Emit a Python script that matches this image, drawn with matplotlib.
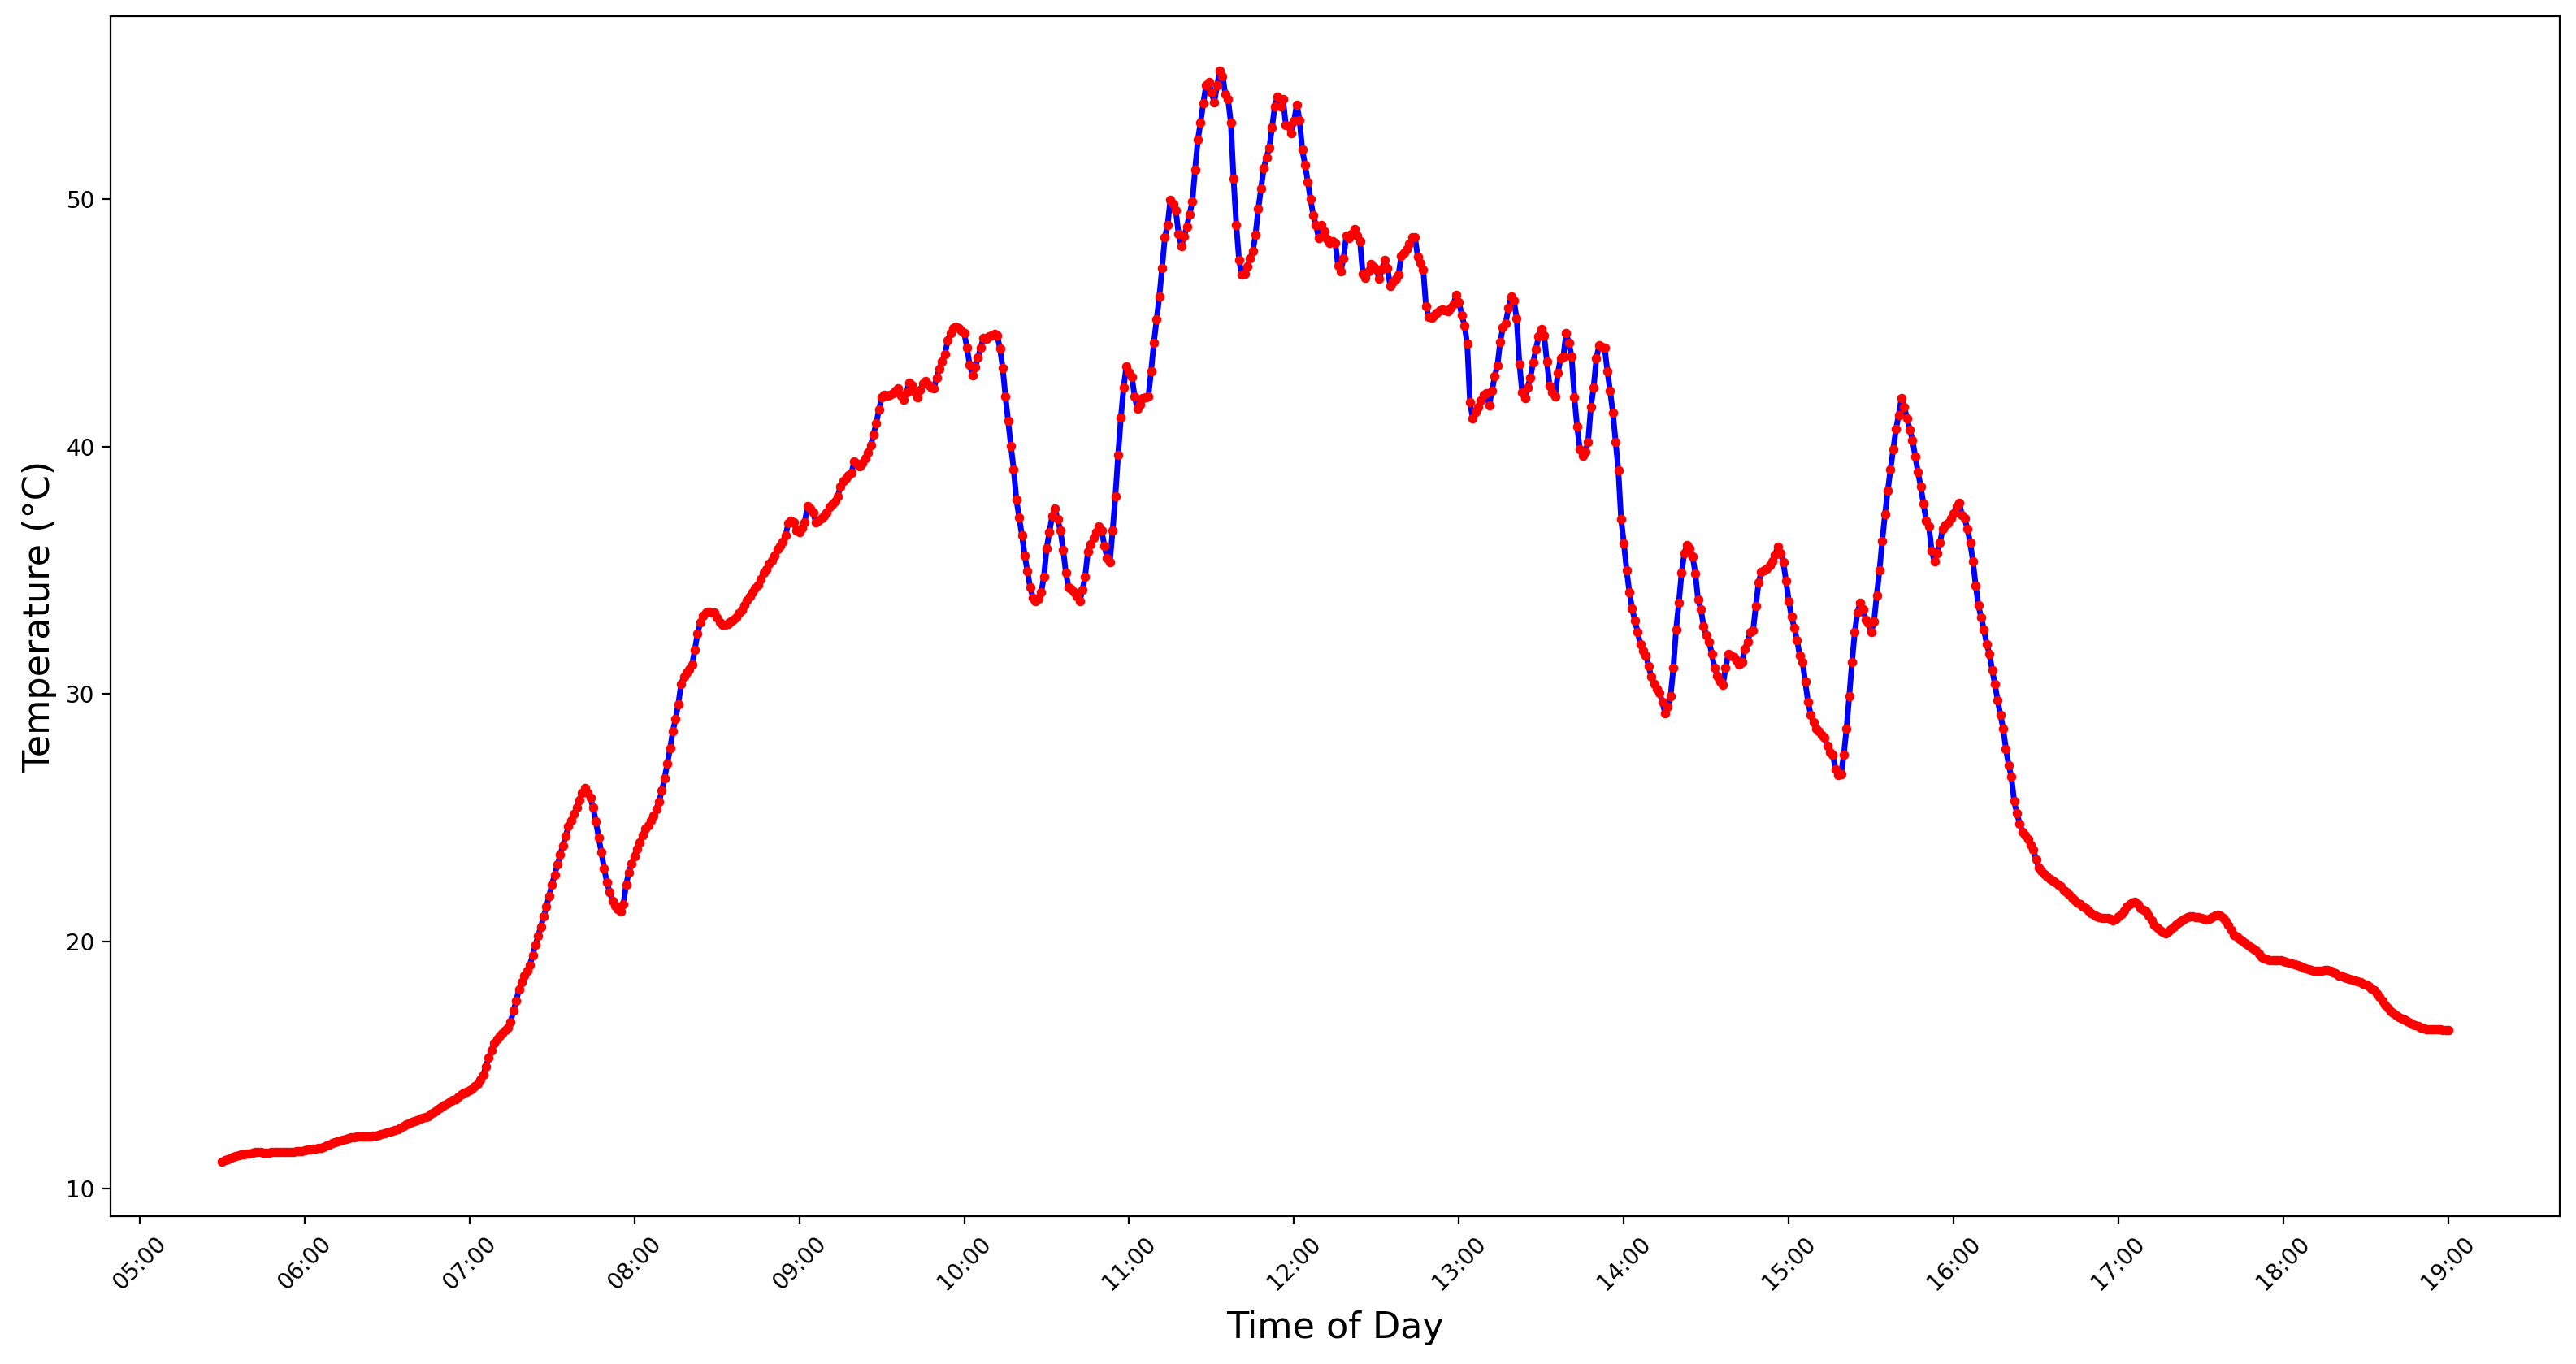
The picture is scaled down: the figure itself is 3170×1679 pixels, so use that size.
import matplotlib
matplotlib.use('Agg')
import matplotlib.pyplot as plt
import matplotlib.dates as mdates
import pandas as pd

# one reading per minute, 05:30 -> 19:00
start_time = '2024-06-01 05:30'
temps = [
    11.10, 11.16, 11.20, 11.24, 11.28, 11.31, 11.35, 11.38, 11.40, 11.42,
    11.44, 11.46, 11.48, 11.50, 11.49, 11.46, 11.45, 11.46, 11.48, 11.49,
    11.48, 11.48, 11.49, 11.50, 11.50, 11.49, 11.50, 11.51, 11.52, 11.53,
    11.55, 11.58, 11.60, 11.62, 11.63, 11.64, 11.66, 11.70, 11.75, 11.80,
    11.84, 11.87, 11.91, 11.95, 11.98, 12.01, 12.04, 12.07, 12.09, 12.10,
    12.11, 12.12, 12.13, 12.13, 12.13, 12.14, 12.15, 12.18, 12.22, 12.26,
    12.29, 12.31, 12.33, 12.36, 12.42, 12.48, 12.54, 12.59, 12.64, 12.69,
    12.73, 12.77, 12.82, 12.87, 12.91, 12.95, 13.02, 13.10, 13.18, 13.26,
    13.33, 13.40, 13.46, 13.52, 13.58, 13.64, 13.72, 13.82, 13.90, 13.93,
    13.98, 14.06, 14.15, 14.25, 14.40, 14.60, 14.95, 15.30, 15.60, 15.90,
    16.05, 16.18, 16.28, 16.40, 16.52, 16.75, 17.20, 17.60, 18.05, 18.35,
    18.60, 18.82, 19.05, 19.45, 19.85, 20.22, 20.60, 21.00, 21.40, 21.85,
    22.30, 22.70, 23.10, 23.50, 23.87, 24.25, 24.65, 24.90, 25.15, 25.40,
    25.70, 26.00, 26.20, 26.00, 25.80, 25.40, 24.85, 24.20, 23.60, 22.95,
    22.40, 22.00, 21.65, 21.45, 21.30, 21.22, 21.50, 22.30, 22.80, 23.15,
    23.45, 23.75, 24.00, 24.30, 24.55, 24.70, 24.90, 25.10, 25.35, 25.65,
    26.10, 26.60, 27.20, 27.80, 28.50, 29.00, 29.60, 30.40, 30.70, 30.85,
    31.00, 31.20, 31.80, 32.45, 32.90, 33.15, 33.30, 33.32, 33.30, 33.28,
    33.10, 32.90, 32.80, 32.80, 32.85, 32.92, 33.00, 33.10, 33.25, 33.40,
    33.60, 33.80, 33.95, 34.10, 34.28, 34.42, 34.65, 34.90, 35.05, 35.25,
    35.40, 35.60, 35.85, 36.00, 36.15, 36.40, 36.90, 37.00, 36.95, 36.60,
    36.55, 36.70, 36.95, 37.60, 37.50, 37.35, 36.95, 37.00, 37.10, 37.20,
    37.35, 37.55, 37.65, 37.80, 38.00, 38.40, 38.60, 38.70, 38.85, 38.95,
    39.40, 39.30, 39.20, 39.35, 39.55, 39.75, 40.05, 40.50, 40.95, 41.50,
    42.00, 42.10, 42.05, 42.10, 42.15, 42.25, 42.35, 42.05, 41.90, 42.20,
    42.60, 42.50, 42.20, 42.00, 42.30, 42.55, 42.65, 42.50, 42.40, 42.35,
    42.80, 43.15, 43.45, 43.75, 44.30, 44.60, 44.80, 44.85, 44.80, 44.70,
    44.60, 44.00, 43.30, 42.90, 43.20, 43.60, 44.00, 44.40, 44.35, 44.45,
    44.50, 44.55, 44.50, 43.98, 43.19, 42.03, 41.03, 40.02, 39.08, 37.85,
    37.13, 36.41, 35.61, 34.96, 34.31, 33.90, 33.74, 33.85, 34.10, 34.75,
    35.90, 36.55, 37.20, 37.49, 37.06, 36.62, 35.83, 34.89, 34.31, 34.24,
    34.10, 33.95, 33.74, 34.20, 34.75, 35.76, 36.05, 36.30, 36.55, 36.77,
    36.60, 36.00, 35.50, 35.32, 36.62, 37.99, 39.66, 41.17, 42.40, 43.26,
    43.00, 42.83, 42.03, 41.53, 41.70, 41.96, 42.00, 42.03, 43.05, 44.20,
    45.14, 46.08, 47.23, 48.46, 48.96, 49.97, 49.80, 49.54, 48.60, 48.10,
    48.50, 48.90, 49.40, 49.90, 51.20, 52.40, 53.10, 53.90, 54.60, 54.75,
    54.30, 53.93, 54.60, 55.19, 54.97, 54.26, 54.04, 53.11, 50.82, 48.96,
    47.54, 46.94, 47.00, 47.30, 47.60, 47.90, 48.58, 49.62, 50.44, 51.26,
    51.70, 52.08, 52.90, 53.77, 54.15, 53.77, 54.04, 53.00, 52.95, 52.68,
    53.17, 53.83, 53.20, 52.00, 51.40, 50.70, 50.00, 49.34, 48.96, 48.42,
    48.96, 48.70, 48.40, 48.25, 48.30, 48.25, 47.32, 47.10, 47.60, 48.52,
    48.42, 48.60, 48.80, 48.52, 48.30, 46.99, 46.83, 47.10, 47.38, 47.25,
    47.16, 46.78, 47.20, 47.54, 47.21, 46.50, 46.67, 46.80, 46.94, 47.70,
    47.85, 47.98, 48.20, 48.47, 48.48, 47.67, 47.40, 47.16, 45.69, 45.25,
    45.20, 45.30, 45.40, 45.50, 45.55, 45.50, 45.47, 45.60, 45.77, 46.13,
    45.84, 45.33, 44.90, 44.16, 41.80, 41.16, 41.40, 41.60, 41.85, 42.11,
    42.15, 41.67, 42.25, 42.84, 43.28, 44.23, 44.82, 45.00, 45.60, 46.06,
    45.90, 45.18, 43.35, 42.18, 41.96, 42.40, 42.80, 43.40, 43.94, 44.45,
    44.74, 44.50, 43.43, 42.47, 42.20, 42.04, 42.99, 43.57, 43.65, 44.60,
    44.20, 43.65, 42.00, 40.80, 39.90, 39.62, 39.80, 40.20, 41.60, 42.40,
    43.57, 44.09, 44.05, 44.01, 43.06, 42.25, 41.38, 40.20, 39.03, 37.06,
    36.10, 35.01, 34.13, 33.47, 32.96, 32.52, 32.01, 31.75, 31.57, 31.13,
    30.69, 30.40, 30.20, 30.05, 29.67, 29.23, 29.50, 29.92, 31.05, 32.60,
    33.69, 34.90, 35.70, 36.01, 35.90, 35.57, 34.88, 33.81, 33.44, 32.75,
    32.37, 32.12, 31.62, 31.05, 30.74, 30.50, 30.36, 31.05, 31.62, 31.56,
    31.50, 31.37, 31.18, 31.30, 31.81, 32.12, 32.50, 32.56, 33.56, 34.50,
    34.94, 35.00, 35.07, 35.20, 35.38, 35.63, 35.95, 35.70, 35.32, 34.57,
    33.75, 33.12, 32.68, 32.18, 31.55, 31.30, 30.49, 29.67, 29.17, 28.86,
    28.61, 28.50, 28.35, 28.23, 27.91, 27.66, 27.54, 26.97, 26.72, 26.75,
    27.54, 28.61, 29.92, 31.30, 32.50, 33.31, 33.69, 33.44, 33.00, 32.87,
    32.50, 32.93, 34.00, 35.01, 36.20, 37.27, 38.21, 39.08, 39.90, 40.71,
    41.28, 41.97, 41.60, 41.16, 40.70, 40.27, 39.61, 38.96, 38.39, 37.70,
    37.00, 36.76, 35.78, 35.37, 35.70, 36.11, 36.68, 36.85, 36.92, 37.09,
    37.30, 37.60, 37.74, 37.25, 37.09, 36.68, 36.11, 35.37, 34.39, 33.58,
    33.09, 32.60, 32.03, 31.62, 30.97, 30.40, 29.74, 29.17, 28.60, 27.79,
    27.13, 26.65, 25.67, 25.18, 24.77, 24.44, 24.30, 24.12, 23.90, 23.71,
    23.30, 22.97, 22.85, 22.73, 22.62, 22.52, 22.45, 22.38, 22.30, 22.22,
    22.08, 22.00, 21.90, 21.78, 21.67, 21.58, 21.50, 21.42, 21.34, 21.25,
    21.15, 21.08, 21.01, 20.98, 20.96, 20.95, 20.94, 20.90, 20.86, 20.90,
    21.00, 21.10, 21.25, 21.40, 21.51, 21.56, 21.59, 21.50, 21.34, 21.28,
    21.20, 21.05, 20.85, 20.66, 20.55, 20.45, 20.38, 20.33, 20.40, 20.50,
    20.58, 20.68, 20.78, 20.86, 20.92, 20.98, 21.00, 21.00, 20.98, 20.98,
    20.95, 20.92, 20.87, 20.90, 20.98, 21.05, 21.09, 21.05, 20.95, 20.82,
    20.65, 20.45, 20.27, 20.18, 20.10, 20.02, 19.94, 19.86, 19.78, 19.70,
    19.62, 19.50, 19.38, 19.29, 19.26, 19.25, 19.25, 19.24, 19.24, 19.24,
    19.20, 19.17, 19.14, 19.12, 19.08, 19.04, 19.00, 18.96, 18.92, 18.88,
    18.85, 18.82, 18.80, 18.80, 18.82, 18.84, 18.85, 18.82, 18.76, 18.70,
    18.63, 18.60, 18.55, 18.51, 18.47, 18.44, 18.41, 18.38, 18.34, 18.30,
    18.25, 18.18, 18.10, 18.03, 17.90, 17.75, 17.60, 17.45, 17.30, 17.18,
    17.10, 17.02, 16.95, 16.88, 16.83, 16.78, 16.72, 16.66, 16.61, 16.57,
    16.53, 16.49, 16.45, 16.45, 16.46, 16.46, 16.45, 16.44, 16.43, 16.42,
    16.42,
]

times = pd.date_range(start_time, periods=len(temps), freq='min')

fig, ax = plt.subplots(figsize=(15.85, 8.395), dpi=200)
fig.subplots_adjust(left=0.043, right=0.9937, top=0.988, bottom=0.1084)

ax.plot(times, temps, color='blue', linewidth=2.5, zorder=2)
ax.scatter(times, temps, color='red', s=10, zorder=3)

ax.xaxis.set_major_locator(mdates.HourLocator())
ax.xaxis.set_major_formatter(mdates.DateFormatter('%H:%M'))
plt.setp(ax.get_xticklabels(), rotation=45)
ax.tick_params(labelsize=10)

ax.set_xlabel('Time of Day', fontsize=16, labelpad=7)
ax.set_ylabel('Temperature (°C)', fontsize=16)

fig.savefig('out.png', dpi=200)
